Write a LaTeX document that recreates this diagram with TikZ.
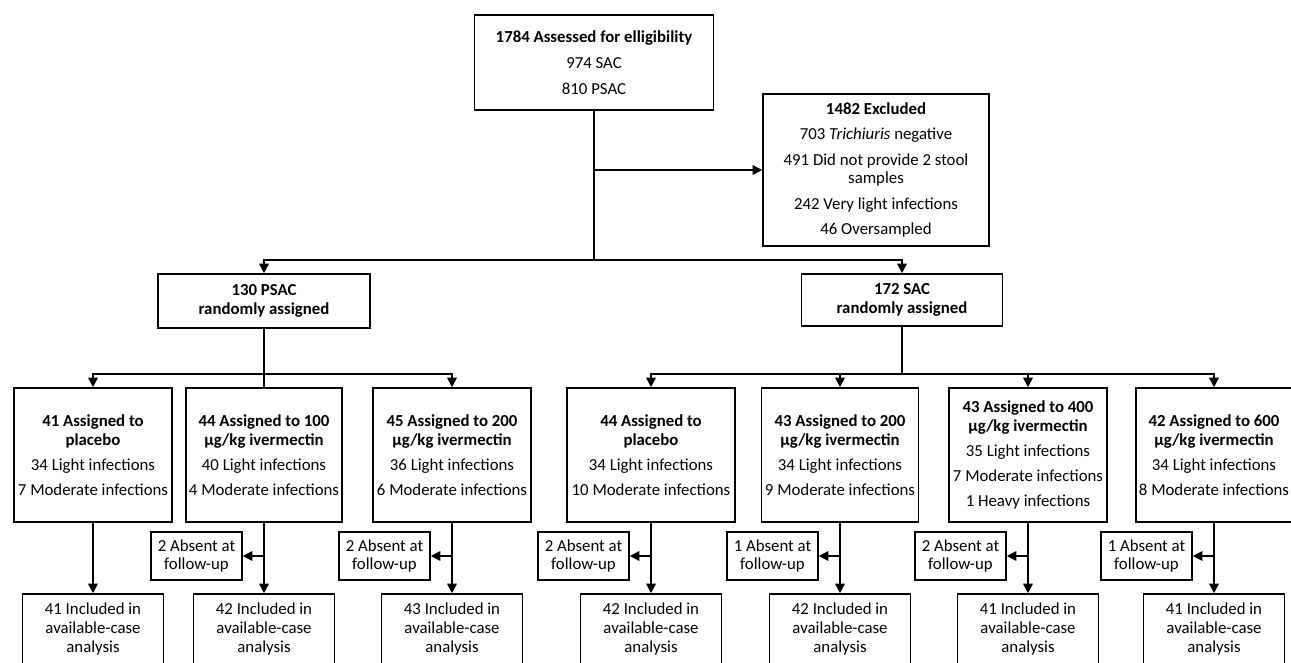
\documentclass[tikz,border=0pt]{standalone}
\usepackage{fontspec}
\setmainfont{Carlito}
\usetikzlibrary{arrows.meta}
\tikzset{link/.style={line width=1.6pt},
  arr/.style={link, -{Triangle[length=9.5pt,width=9.5pt]}},
  box/.style={draw, line width=1.6pt, align=center, inner sep=2pt, font=\fontsize{16.8}{18.8}\selectfont},
  armbox/.style={box, minimum height=134pt},
  absbox/.style={box, minimum width=91pt, minimum height=48pt},
  incbox/.style={box, minimum width=141pt, minimum height=70pt}}

\begin{document}
\begin{tikzpicture}[x=1pt, y=-1pt]
\useasboundingbox (0,0) rectangle (1291,662);
  \begin{scope}
\node[box, minimum width=239pt, minimum height=95pt] (top) at (594,62.5) {\textbf{1784 Assessed for elligibility}\\[7.5pt] 974 SAC\\[7.5pt] 810 PSAC};
\node[box, minimum width=226pt, minimum height=152pt] (excl) at (876,170) {\textbf{1482 Excluded}\\[6.5pt] 703 \textit{Trichiuris} negative\\[6.5pt] 491 Did not provide 2 stool\\samples\\[6.5pt] 242 Very light infections\\[6.5pt] 46 Oversampled};
\node[box, minimum width=212pt, minimum height=54pt] (psac) at (264,301) {\textbf{130 PSAC}\\\textbf{randomly assigned}};
\node[box, minimum width=201pt, minimum height=52pt] (sac) at (902,300) {\textbf{172 SAC}\\\textbf{randomly assigned}};
\coordinate (split) at (594,260);
\draw[link] (top.south) -- (split); \draw[arr] (top.south |- excl.west) -- (excl.west);
\draw[arr] (split) -| (psac.north); \draw[arr] (split) -| (sac.north);
\end{scope}
% PSAC arms
\begin{scope}
\node[armbox, minimum width=158pt] (p1) at (93,455) {\textbf{41 Assigned to}\\\textbf{placebo}\\[6pt] 34 Light infections\\[6pt] 7 Moderate infections};
\node[armbox, minimum width=156pt] (p2) at (264,455) {\textbf{44 Assigned to 100}\\\textbf{µg/kg ivermectin}\\[6pt] 40 Light infections\\[6pt] 4 Moderate infections};
\node[armbox, minimum width=158pt] (p3) at (452,455) {\textbf{45 Assigned to 200}\\\textbf{µg/kg ivermectin}\\[6pt] 36 Light infections\\[6pt] 6 Moderate infections};
\draw[link] (psac.south) -- ++(0,45) coordinate (psplit);
\draw[arr] (psplit) -| (p1.north); \draw[link] (psplit) -- (p2.north); \draw[arr] (psplit) -| (p3.north);
\node[absbox] (pa2) at (196.5,556) {2 Absent at\\follow-up};
\node[absbox] (pa3) at (384.5,556) {2 Absent at\\follow-up};
\node[incbox] (pi1) at (93,629) {41 Included in\\available-case\\analysis};
\node[incbox] (pi2) at (264,629) {42 Included in\\available-case\\analysis};
\node[incbox] (pi3) at (452,629) {43 Included in\\available-case\\analysis};
\draw[arr] (p1.south) -- (pi1.north);
\draw[arr] (p2.south) -- (pi2.north); \draw[arr] (p2.south |- pa2.east) -- (pa2.east);
\draw[arr] (p3.south) -- (pi3.north); \draw[arr] (p3.south |- pa3.east) -- (pa3.east);
\end{scope}
% SAC arms
\begin{scope}
\node[armbox, minimum width=168pt] (s1) at (651,455) {\textbf{44 Assigned to}\\\textbf{placebo}\\[6pt] 34 Light infections\\[6pt] 10 Moderate infections};
\node[armbox, minimum width=157pt] (s2) at (840,455) {\textbf{43 Assigned to 200}\\\textbf{µg/kg ivermectin}\\[6pt] 34 Light infections\\[6pt] 9 Moderate infections};
\node[armbox, minimum width=158pt] (s3) at (1028,455) {\textbf{43 Assigned to 400}\\\textbf{µg/kg ivermectin}\\[6pt] 35 Light infections\\[6pt] 7 Moderate infections\\[6pt] 1 Heavy infections};
\node[armbox, minimum width=156pt] (s4) at (1214,455) {\textbf{42 Assigned to 600}\\\textbf{µg/kg ivermectin}\\[6pt] 34 Light infections\\[6pt] 8 Moderate infections};
\draw[link] (sac.south) -- ++(0,47) coordinate (ssplit);
\draw[arr] (ssplit) -| (s1.north); \draw[arr] (ssplit) -| (s2.north);
\draw[arr] (ssplit) -| (s3.north); \draw[arr] (ssplit) -| (s4.north);
\node[absbox] (sa1) at (583.5,556) {2 Absent at\\follow-up};
\node[absbox] (sa2) at (772.5,556) {1 Absent at\\follow-up};
\node[absbox] (sa3) at (960.5,556) {2 Absent at\\follow-up};
\node[absbox] (sa4) at (1146.5,556) {1 Absent at\\follow-up};
\node[incbox] (si1) at (651,629) {42 Included in\\available-case\\analysis};
\node[incbox] (si2) at (840,629) {42 Included in\\available-case\\analysis};
\node[incbox] (si3) at (1028,629) {41 Included in\\available-case\\analysis};
\node[incbox] (si4) at (1214,629) {41 Included in\\available-case\\analysis};
\draw[arr] (s1.south) -- (si1.north); \draw[arr] (s1.south |- sa1.east) -- (sa1.east);
\draw[arr] (s2.south) -- (si2.north); \draw[arr] (s2.south |- sa2.east) -- (sa2.east);
\draw[arr] (s3.south) -- (si3.north); \draw[arr] (s3.south |- sa3.east) -- (sa3.east);
\draw[arr] (s4.south) -- (si4.north); \draw[arr] (s4.south |- sa4.east) -- (sa4.east);
\end{scope}

\end{tikzpicture}
\end{document}
